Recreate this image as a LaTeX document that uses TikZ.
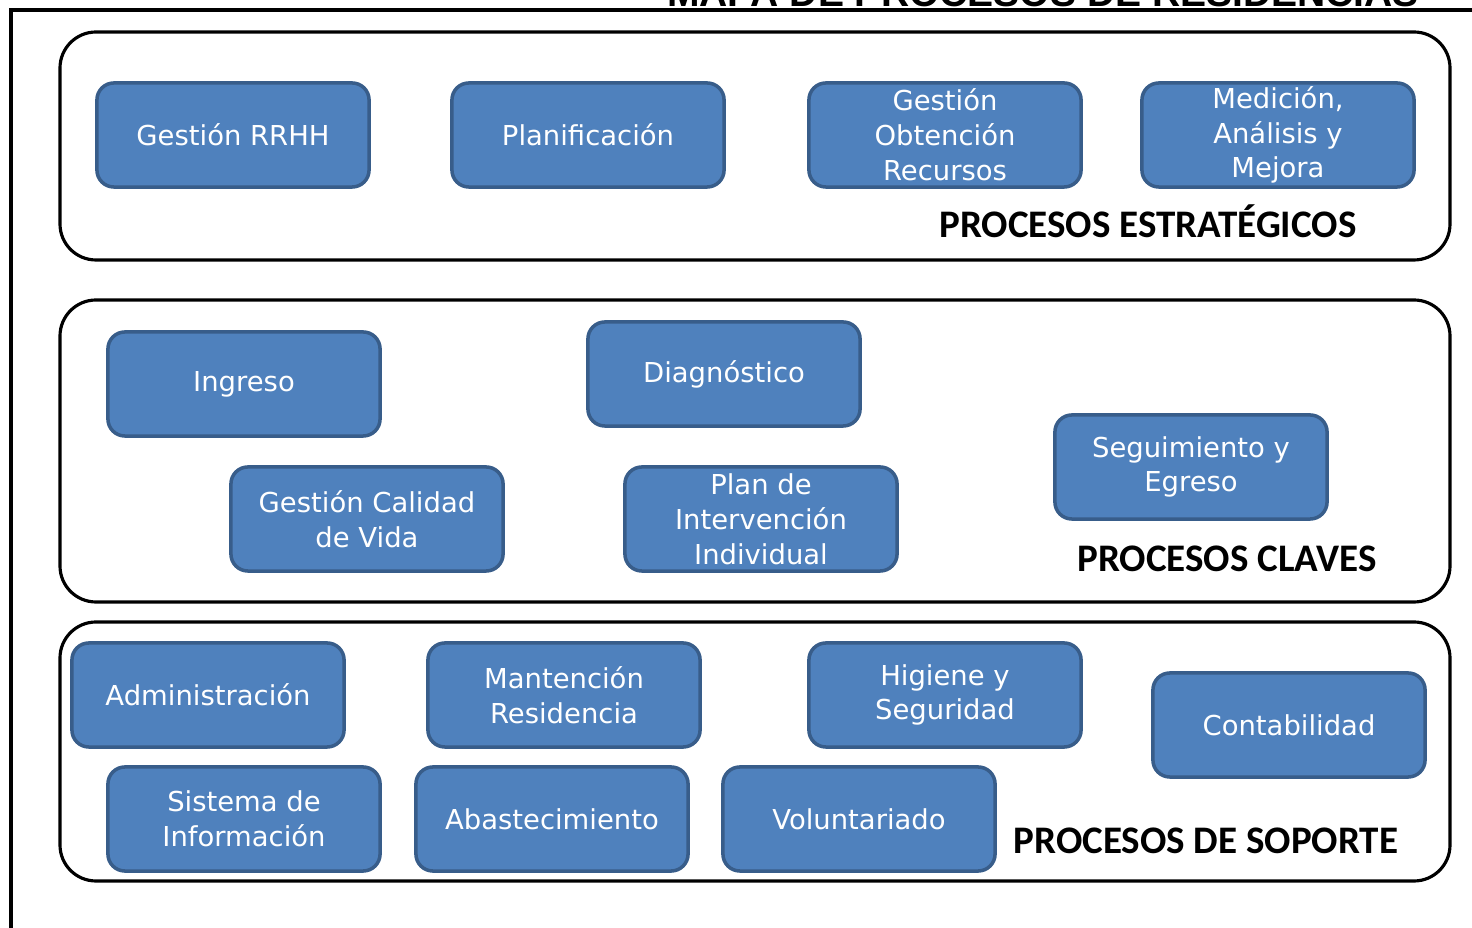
\documentclass[tikz,border=0pt]{standalone}
\usepackage{fontspec}
\setmainfont{DejaVu Sans}
\newfontfamily\labelfont{Carlito}
\newfontfamily\titlefont{Liberation Sans}
\usepackage{xcolor}
\usetikzlibrary{positioning}

\definecolor{procfill}{HTML}{4F81BD}
\definecolor{procline}{HTML}{385D8A}

\tikzset{
  proc/.style={draw=procline, fill=procfill, line width=1pt, rounded corners=0.17cm,
    minimum width=2.72cm, minimum height=1.04cm, align=center, text=white,
    font=\fontsize{7.8}{9.9}\selectfont, inner sep=0pt},
  band/.style={draw=black, line width=0.9pt, rounded corners=0.36cm},
  bandlabel/.style={font=\labelfont\bfseries\fontsize{11.1}{12}\selectfont, anchor=center}
}

\begin{document}
\begin{tikzpicture}[x=0.01cm, y=-0.01cm]
    \useasboundingbox (0,0) rectangle (1472,928);

    % marco y titulo
    \draw[line width=0.9pt] (11,928) -- (11,10) -- (1472,10);
    \node[font=\titlefont\bfseries\fontsize{11.1}{12}\selectfont, anchor=base] (titulo) at (1043,7) {MAPA DE PROCESOS DE RESIDENCIAS};

    % franjas
    \draw[band] (60,32) rectangle (1450,260);
    \draw[band] (60,300) rectangle (1450,602);
    \draw[band] (60,622) rectangle (1450,881);

    % estrategicos
    \node[proc] (rrhh) at (233,135) {Gestión RRHH};
    \node[proc] (planif) at (588,135) {Planificación};
    \node[proc] (recursos) at (945,135) {Gestión\\Obtención\\Recursos};
    \node[proc] (medicion) at (1278,135) {Medición,\\Análisis y\\Mejora};
    \node[bandlabel] (estrat) at (1148,221) {PROCESOS ESTRATÉGICOS};

    % claves
    \node[proc] (ingreso) at (244,384) {Ingreso};
    \node[proc] (diagn) at (724,374) {Diagnóstico};
    \node[proc] (calidad) at (367,519) {Gestión Calidad\\de Vida};
    \node[proc] (plan) at (761,519) {Plan de\\Intervención\\Individual};
    \node[proc] (seguim) at (1191,467) {Seguimiento y\\Egreso};
    \node[bandlabel] (claves) at (1227,559) {PROCESOS CLAVES};

    % soporte
    \node[proc] (admin) at (208,695) {Administración};
    \node[proc] (mantencion) at (564,695) {Mantención\\Residencia};
    \node[proc] (higiene) at (945,695) {Higiene y\\Seguridad};
    \node[proc] (contab) at (1289,725) {Contabilidad};
    \node[proc] (sistema) at (244,819) {Sistema de\\Información};
    \node[proc] (abast) at (552,819) {Abastecimiento};
    \node[proc] (volunt) at (859,819) {Voluntariado};
    \node[bandlabel] (soporte) at (1206,841) {PROCESOS DE SOPORTE};
\end{tikzpicture}
\end{document}
